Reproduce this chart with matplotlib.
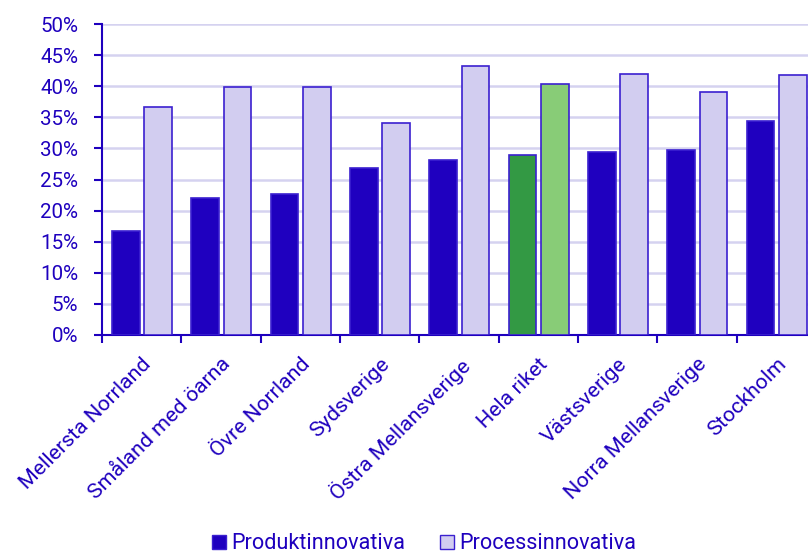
import numpy as np
import matplotlib.pyplot as plt
import matplotlib.transforms as mtrans
from matplotlib.patches import Patch

# Data
regioner = ["Mellersta Norrland", "Småland med öarna", "Övre Norrland", "Sydsverige",
            "Östra Mellansverige", "Hela riket", "Västsverige", "Norra Mellansverige", "Stockholm"]
produkt = [16.8, 22.1, 22.7, 26.9, 28.1, 28.9, 29.4, 29.8, 34.4]
process = [36.7, 39.8, 39.9, 34.1, 43.2, 40.4, 42.0, 39.0, 41.8]

blue = "#1e00be"
dark = "#1f00bf"
light = "#d2cdf0"
edge = "#3b20d0"

plt.rcParams['font.family'] = ['Roboto', 'DejaVu Sans']
plt.rcParams['font.size'] = 14.5

fig = plt.figure(figsize=(8.08, 5.54), dpi=100)
ax = fig.add_axes([102 / 808, 219 / 554, 714 / 808, 311 / 554])

x = np.arange(len(regioner))
for i, r in enumerate(regioner):
    c1, c2 = (dark, light)
    if r == "Hela riket":
        c1, c2 = ("#339944", "#88cc77")
    ax.bar(x[i] + 0.30, produkt[i], width=0.35, color=c1, edgecolor=edge, linewidth=1.2, zorder=3)
    ax.bar(x[i] + 0.707, process[i], width=0.35, color=c2, edgecolor=edge, linewidth=1.2, zorder=3)

ax.set_xlim(0, len(regioner))
ax.set_ylim(0, 50)
ax.set_yticks(np.arange(0, 51, 5))
ax.set_yticklabels([f"{v}%" for v in range(0, 51, 5)], color=blue, fontsize=14.8)
ax.yaxis.grid(True, color="#d5d2f0", linewidth=1.8, zorder=0)
ax.set_axisbelow(True)

ax.set_xticks(np.arange(0, len(regioner) + 1))
ax.set_xticklabels([])
ax.set_xticks(x + 0.5, minor=True)
ax.set_xticklabels(regioner, minor=True, rotation=45, ha="right", rotation_mode="anchor",
                   color=blue, fontsize=15.4)
shift = mtrans.ScaledTranslation(-6 / 100, 0, fig.dpi_scale_trans)
for lab in ax.get_xticklabels(minor=True):
    lab.set_transform(lab.get_transform() + shift)
ax.tick_params(axis="x", which="minor", length=0, pad=14)
ax.tick_params(axis="x", which="major", length=6, width=1.5, color=blue)
ax.tick_params(axis="y", length=6, width=1.5, color=blue, pad=11)

for s in ["top", "right"]:
    ax.spines[s].set_visible(False)
for s in ["left", "bottom"]:
    ax.spines[s].set_color(blue)
    ax.spines[s].set_linewidth(1.5)

handles = [Patch(facecolor=dark, edgecolor=edge, label="Produktinnovativa"),
           Patch(facecolor=light, edgecolor=edge, label="Processinnovativa")]
leg = fig.legend(handles=handles, loc="lower center", bbox_to_anchor=(0.525, -0.036), ncol=2,
                 frameon=False, handlelength=0.65, handleheight=0.65, handletextpad=0.25,
                 columnspacing=1.6, fontsize=15.6)
for t in leg.get_texts():
    t.set_color(blue)

fig.savefig("out.png", dpi=100)
